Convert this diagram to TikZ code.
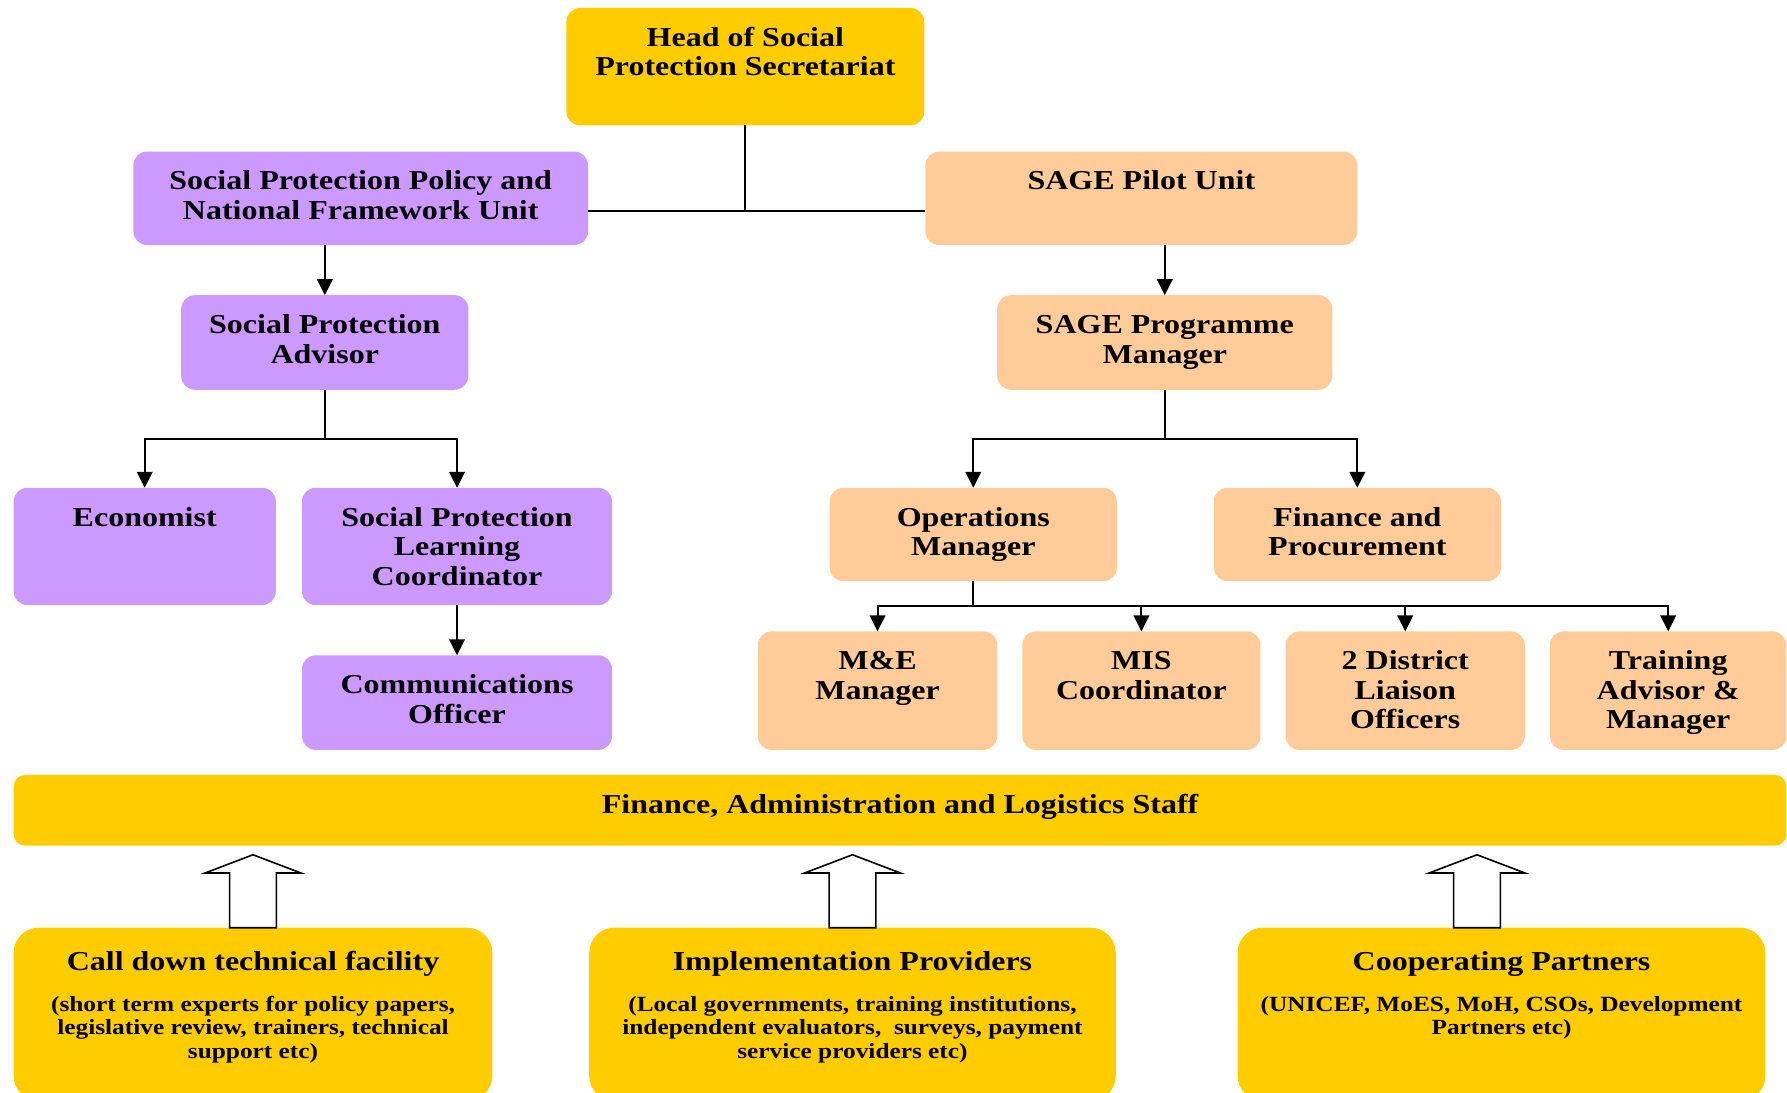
\documentclass[tikz,border=0pt]{standalone}
\usepackage{fontspec}
\setmainfont{Liberation Serif}[FakeStretch=1.17]
\usetikzlibrary{arrows.meta}

\definecolor{gold}{HTML}{FFCC00}
\definecolor{lilac}{HTML}{CC99FF}
\definecolor{peach}{HTML}{FFCC99}

\tikzset{
  box/.style={rounded corners=6pt, inner sep=0pt, outer sep=0pt, draw=none},
  lilacbox/.style={box, fill=lilac},
  peachbox/.style={box, fill=peach},
  goldbox/.style={box, fill=gold},
  bandbox/.style={box, fill=gold, rounded corners=5pt},
  partnerbox/.style={box, fill=gold, rounded corners=11pt},
  lbl/.style={anchor=north, inner sep=0pt, align=center,
    font=\bfseries\fontsize{12}{13}\selectfont},
  sublbl/.style={anchor=north, inner sep=0pt, align=center,
    font=\bfseries\fontsize{9.5}{10.5}\selectfont},
  link/.style={line width=0.9pt, line join=miter},
  arr/.style={link, -{Triangle[length=7pt,width=6.8pt]}},
  blk/.style={draw=black, fill=white, line width=0.7pt, line join=miter},
}

% box: name, style, x1, y1, x2, y2, caption (top aligned)
\newcommand\orgbox[7]{%
  \node[#2, minimum width={(#5-#3)*0.5pt}, minimum height={(#6-#4)*0.5pt}]
    (#1) at ({(#3+#5)/2},{(#4+#6)/2}) {};
  \node[lbl] (#1-text) at ({(#3+#5)/2},{#4+15}) {\strut #7};
}

% hollow upward block arrow standing on a point
\newcommand\upblock[1]{%
  \draw[blk] (#1) ++(-20.5,0) -- ++(41,0) -- ++(0,-48) -- ++(21.5,0)
    -- ++(-42,-16) -- ++(-42,16) -- ++(21.5,0) -- cycle;
}

\begin{document}
\begin{tikzpicture}[x=0.5pt, y=-0.5pt]
\useasboundingbox (0,0) rectangle (1568,959);

% top of the hierarchy
\orgbox{head}{goldbox}{497}{7}{811}{110}{Head of Social\\Protection Secretariat}
\orgbox{spp}{lilacbox}{117}{133}{516}{215}{Social Protection Policy and\\National Framework Unit}
\orgbox{sage}{peachbox}{812}{133}{1191}{215}{SAGE Pilot Unit}

% policy side
\orgbox{adv}{lilacbox}{159}{259}{411}{342}{Social Protection\\Advisor}
\orgbox{econ}{lilacbox}{12}{428}{242}{531}{Economist}
\orgbox{slc}{lilacbox}{265}{428}{537}{531}{Social Protection\\Learning\\Coordinator}
\orgbox{comm}{lilacbox}{265}{575}{537}{658}{Communications\\Officer}

% SAGE side
\orgbox{pm}{peachbox}{875}{259}{1169}{342}{SAGE Programme\\Manager}
\orgbox{ops}{peachbox}{728}{428}{980}{510}{Operations\\Manager}
\orgbox{fin}{peachbox}{1065}{428}{1317}{510}{Finance and\\Procurement}
\orgbox{me}{peachbox}{665}{554}{875}{658}{M\&E\\Manager}
\orgbox{mis}{peachbox}{897}{554}{1106}{658}{MIS\\Coordinator}
\orgbox{dlo}{peachbox}{1128}{554}{1338}{658}{2 District\\Liaison\\Officers}
\orgbox{trn}{peachbox}{1360}{554}{1567.5}{658}{Training\\Advisor \&\\Manager}

% shared support band
\orgbox{band}{bandbox}{12}{680}{1567.5}{742}{Finance, Administration and Logistics Staff}

% external providers
\node[partnerbox, minimum width={420*0.5pt}, minimum height={152*0.5pt}] (cdt) at (222,890) {};
\node[lbl] (cdt-title) at (222,833) {\strut Call down technical facility};
\node[sublbl] (cdt-text) at (222,872) {\strut (short term experts for policy papers,\\legislative review, trainers, technical\\support etc)};

\node[partnerbox, minimum width={462*0.5pt}, minimum height={152*0.5pt}] (imp) at (748,890) {};
\node[lbl] (imp-title) at (748,833) {\strut Implementation Providers};
\node[sublbl] (imp-text) at (748,872) {\strut (Local governments, training institutions,\\independent evaluators,\ \ surveys, payment\\service providers etc)};

\node[partnerbox, minimum width={463*0.5pt}, minimum height={152*0.5pt}] (coop) at (1317.5,890) {};
\node[lbl] (coop-title) at (1317.5,833) {\strut Cooperating Partners};
\node[sublbl] (coop-text) at (1317.5,872) {\strut (UNICEF, MoES, MoH, CSOs, Development\\Partners etc)};

% reporting lines
\coordinate (hub) at (654,185);
\draw[link] (head.south) -- (hub);
\draw[link] (spp.east |- hub) -- (sage.west |- hub);

\draw[arr] (adv.north |- spp.south) -- (adv.north);
\draw[arr] (adv.south) -- ++(0,43) -| (econ.north);
\draw[arr] (adv.south) -- ++(0,43) -| (slc.north);
\draw[arr] (slc.south) -- (comm.north);

\draw[arr] (pm.north |- sage.south) -- (pm.north);
\draw[arr] (pm.south) -- ++(0,43) -| (ops.north);
\draw[arr] (pm.south) -- ++(0,43) -| (fin.north);

\draw[arr] (ops.south) -- ++(0,22) -| (me.north);
\draw[arr] (ops.south) -- ++(0,22) -| (mis.north);
\draw[arr] (ops.south) -- ++(0,22) -| (dlo.north);
\draw[arr] (ops.south) -- ++(0,22) -| (trn.north);

% support flowing up into the band
\coordinate (cdt-up) at (cdt.north);
\coordinate (imp-up) at (imp.north);
\coordinate (coop-up) at (1296,814);
\upblock{cdt-up}
\upblock{imp-up}
\upblock{coop-up}
\end{tikzpicture}
\end{document}
